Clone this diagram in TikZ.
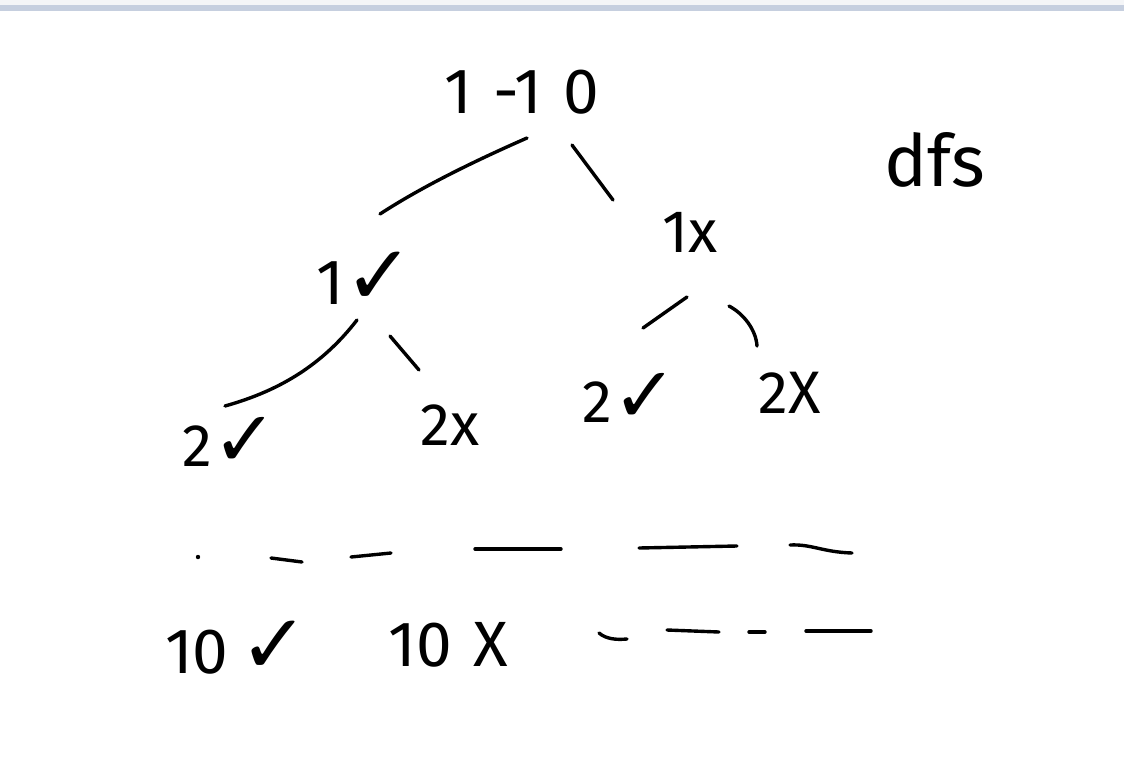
\documentclass[tikz,border=0pt]{standalone}
\usepackage{fontspec}
\usetikzlibrary{calc}
\IfFontExistsTF{Fira Sans Book}{\newfontfamily\hand{Fira Sans Book}}{\newfontfamily\hand{Fira Sans}}
\newfontfamily\sym{DejaVu Sans}
\newcommand\okmark{\scalebox{1.3}{\sym ✓}}
\definecolor{bargray}{HTML}{F4F5F7}
\definecolor{barblue}{HTML}{C6CFDF}
\begin{document}
\begin{tikzpicture}[x=1pt,y=-1pt,
  stroke/.style={line width=3.4pt,line cap=round,line join=round},
  lbl/.style={inner sep=0pt,font=\hand\fontsize{64}{68}\selectfont},
  small/.style={inner sep=0pt,font=\hand\fontsize{60}{64}\selectfont}]
\useasboundingbox (0,0) rectangle (1124,763);
\fill[white] (0,0) rectangle (1124,763);
\fill[bargray] (0,0) rectangle (1124,5.3);
\fill[barblue] (0,5.3) rectangle (1124,10.7);

% nodes
\node[lbl] (root) at (522,92) {1\,\,-1\,\,0};
\node[lbl] (a) at (365,278) {1\okmark};
\node[small] (b) at (690,232) {1x};
\node[small] (aa) at (230,442) {2\okmark};
\node[small] (ab) at (450,425) {2x};
\node[small] (ba) at (630,398) {2\okmark};
\node[small] (bb) at (790,393) {2X};
\node[lbl,anchor=base west,font=\hand\fontsize{72}{76}\selectfont] (dfs) at (884,186) {dfs};
\node[lbl] (ta) at (237,648) {10\,\okmark};
\node[lbl] (tb) at (448,645) {10\,\,X};

% connectors
\draw[stroke] ($(root)+(5,46)$) .. controls (470,163) and (420,188) .. ($(a)+(15,-64)$);
\draw[stroke] ($(root)+(50,53)$) -- ($(b)+(-77,-32)$);
\draw[stroke] ($(a)+(-8,42)$) .. controls (320,368) and (275,392) .. ($(aa)+(-5,-36)$);
\draw[stroke] ($(a)+(25,58)$) -- ($(ab)+(-31,-55)$);
\draw[stroke] ($(b)+(-3,65)$) -- ($(ba)+(13,-70)$);
\draw[stroke] ($(b)+(39,74)$) .. controls (744,314) and (756,330) .. ($(bb)+(-33,-47)$);

% dashes (ellipsis rows)
\fill (198,557) circle (2.2pt);
\draw[stroke] (271,558) -- (302,562);
\draw[stroke] (351,557) -- (391,553);
\draw[stroke] (475,549) -- (561,549);
\draw[stroke] (639,548) -- (737,546);
\draw[stroke] (790,545) .. controls (812,544) and (822,552) .. (852,553);
\draw[stroke] (599,633) .. controls (606,639) and (616,640) .. (627,639);
\draw[stroke] (667,630) -- (719,632);
\draw[stroke] (749,632) -- (765,632);
\draw[stroke] (806,631) -- (871,631);
\end{tikzpicture}
\end{document}
